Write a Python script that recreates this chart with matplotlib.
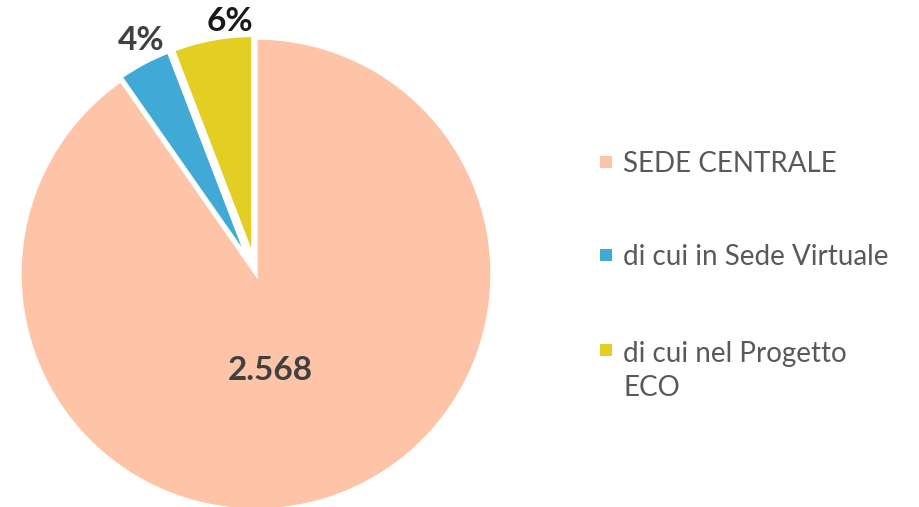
import matplotlib.pyplot as plt
from matplotlib.patches import Rectangle

output = "out.png"

categories = ['SEDE CENTRALE', 'di cui in Sede Virtuale', 'di cui nel Progetto ECO']
values = [2568, 110, 166]
colors = ['#FDC4A8', '#41A9D6', '#E3CE24']

plt.rcParams['font.family'] = ['Lato', 'DejaVu Sans']

W, H = 920, 507
fig = plt.figure(figsize=(W / 100, H / 100), dpi=100)
# pie box in pixels: centre (256, 274), radius 236
ax = fig.add_axes([20 / W, -3 / H, 472 / W, 472 / H])

wedges, _ = ax.pie(values, colors=colors, startangle=90, counterclock=False,
                   explode=[0, 0.072, 0.072],
                   wedgeprops=dict(edgecolor='white', linewidth=2.4))
# exploded slices are drawn a bit smaller
for w in wedges[1:]:
    w.set_radius(0.94)
ax.set_xlim(-1, 1)
ax.set_ylim(-1, 1)

total = sum(values)
texts = ['{:,}'.format(values[0]).replace(',', '.'),
         '%d%%' % round(values[1] / total * 100),
         '%d%%' % round(values[2] / total * 100)]
label_pos = [(0.06, -0.41), (-0.487, 0.99), (-0.11, 1.068)]
label_col = ['#404040', '#404040', '#1A1A1A']
for t, (x, y), c in zip(texts, label_pos, label_col):
    ax.text(x, y, t, ha='center', va='center', fontsize=24, fontweight='bold', color=c,
            clip_on=False)

# legend drawn by hand so the marker sits on the first line of a wrapped label
labels = [c.replace('Progetto ', 'Progetto\n') for c in categories]
row_y = [162, 255, 350]   # marker centre, pixels from top
for lab, col, y in zip(labels, colors, row_y):
    fig.add_artist(Rectangle((600 / W, 1 - (y + 6) / H), 12 / W, 12 / H,
                             facecolor=col, edgecolor='none', transform=fig.transFigure))
    # baseline of the last line
    base = y + 10 + lab.count('\n') * 36
    fig.text(623 / W, 1 - base / H, lab, fontsize=20, color='#595959',
             ha='left', va='baseline', linespacing=1.38)

plt.savefig(output, dpi=100)
plt.close()
